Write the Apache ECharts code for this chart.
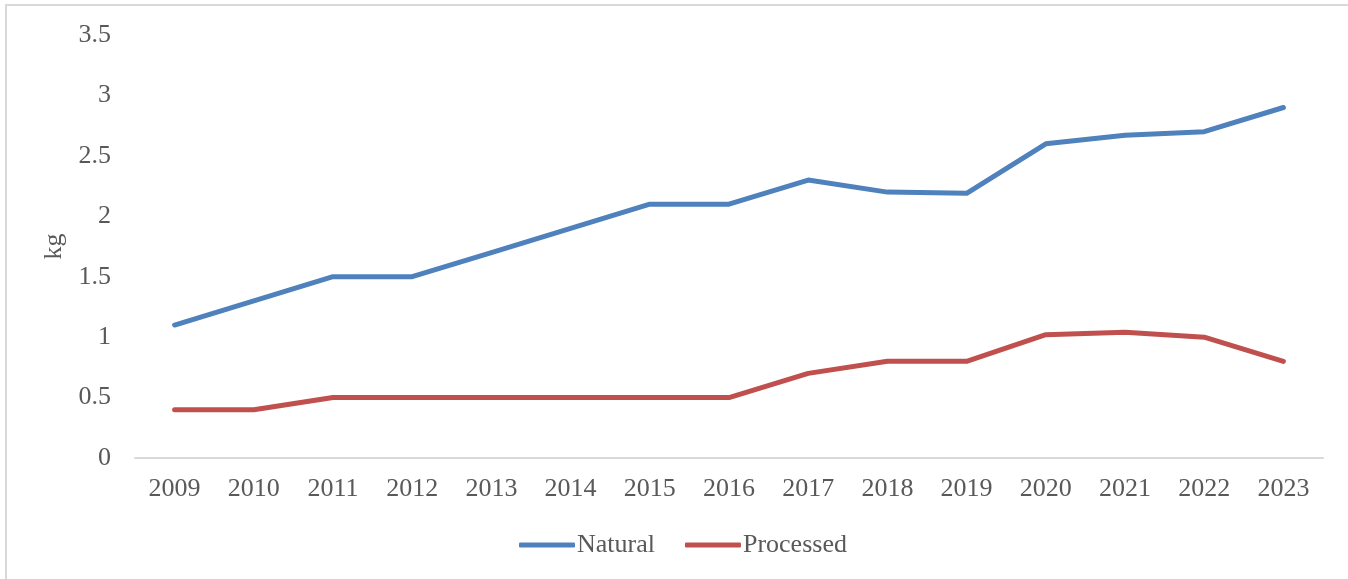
<!DOCTYPE html>
<html>
<head>
<meta charset="utf-8">
<script src="https://cdn.jsdelivr.net/npm/echarts@6/dist/echarts.min.js"></script>
<style>
    html, body { margin: 0; padding: 0; background: #fff; }
    #chart { width: 1348px; height: 579px; }
</style>
</head>
<body>
<div id="chart"></div>
<script>
    const years = ['2009', '2010', '2011', '2012', '2013', '2014', '2015', '2016', '2017', '2018', '2019', '2020', '2021', '2022', '2023']
    const natural = [1.1, 1.3, 1.5, 1.5, 1.7, 1.9, 2.1, 2.1, 2.3, 2.2, 2.19, 2.6, 2.67, 2.7, 2.9]
    const processed = [0.4, 0.4, 0.5, 0.5, 0.5, 0.5, 0.5, 0.5, 0.7, 0.8, 0.8, 1.02, 1.04, 1.0, 0.8]

    const font = 'Liberation Serif'
    const grey = '#595959'

    const chart = echarts.init(document.getElementById('chart'))
    chart.setOption({
        animation: false,
        textStyle: { fontFamily: font, color: grey },
        graphic: [{
            type: 'rect',
            shape: { x: 6, y: 5, width: 1400, height: 620 },
            style: { fill: 'none', stroke: '#d9d9d9', lineWidth: 2 }
        }],
        grid: { left: 135, right: 25, top: 35, bottom: 121 },
        legend: {
            left: 514,
            top: 527,
            itemWidth: 56,
            itemHeight: 5,
            itemGap: 30,
            icon: 'roundRect',
            textStyle: { fontFamily: font, fontSize: 26, color: grey, padding: [0, 0, 0, -3] },
            data: ['Natural', 'Processed']
        },
        xAxis: {
            type: 'category',
            data: years,
            boundaryGap: true,
            axisLine: { lineStyle: { color: '#d9d9d9', width: 2 } },
            axisTick: { show: false },
            axisLabel: { fontFamily: font, fontSize: 26, color: grey, margin: 18 }
        },
        yAxis: {
            type: 'value',
            name: 'kg',
            nameLocation: 'middle',
            nameGap: 52,
            nameRotate: 90,
            nameTextStyle: { fontFamily: font, fontSize: 26, color: grey },
            min: 0,
            max: 3.5,
            interval: 0.5,
            axisLine: { show: false },
            axisTick: { show: false },
            splitLine: { show: false },
            axisLabel: { fontFamily: font, fontSize: 26, color: grey, margin: 24 }
        },
        series: [{
            name: 'Natural',
            type: 'line',
            data: natural,
            symbol: 'none',
            color: '#4f81bd',
            lineStyle: { color: '#4f81bd', width: 5, cap: 'round', join: 'round' }
        }, {
            name: 'Processed',
            type: 'line',
            data: processed,
            symbol: 'none',
            color: '#c0504d',
            lineStyle: { color: '#c0504d', width: 5, cap: 'round', join: 'round' }
        }]
    })
</script>
</body>
</html>
